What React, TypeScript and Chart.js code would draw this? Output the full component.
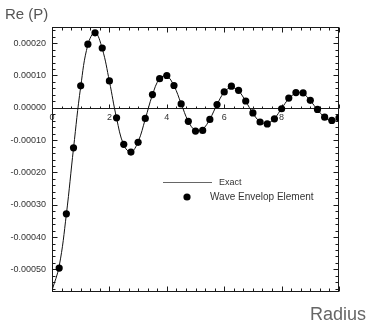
import React, { useEffect, useRef } from 'react';
import { Chart, registerables } from 'chart.js';

Chart.register(...registerables);

// ---- data ----
const radiusPoints = [
  0.25, 0.5, 0.75, 1.0, 1.25, 1.5, 1.75, 2.0, 2.25, 2.5,
  2.75, 3.0, 3.25, 3.5, 3.75, 4.0, 4.25, 4.5, 4.75, 5.0,
  5.25, 5.5, 5.75, 6.0, 6.25, 6.5, 6.75, 7.0, 7.25, 7.5,
  7.75, 8.0, 8.25, 8.5, 8.75, 9.0, 9.25, 9.5, 9.75, 10.0,
];
const waveEnvelopValues = [
  -0.000496, -0.000328, -0.000124, 0.000068, 0.000197, 0.000232, 0.000185, 0.000083, -0.000031, -0.000113,
  -0.000137, -0.000107, -0.000033, 0.000041, 0.00009, 0.0001, 0.000069, 0.000012, -0.000042, -0.000072,
  -0.00007, -0.000036, 0.00001, 0.000049, 0.000067, 0.000054, 0.000021, -0.000016, -0.000044, -0.00005,
  -0.000034, -0.000003, 0.00003, 0.000047, 0.000046, 0.000023, -0.000005, -0.000029, -0.000039, -0.000031,
];
const exactRadius = [
  0, 0.25, 0.5, 0.75, 1.0, 1.25, 1.5, 1.75, 2.0, 2.25, 2.5,
  2.75, 3.0, 3.25, 3.5, 3.75, 4.0, 4.25, 4.5, 4.75, 5.0,
  5.25, 5.5, 5.75, 6.0, 6.25, 6.5, 6.75, 7.0, 7.25, 7.5,
  7.75, 8.0, 8.25, 8.5, 8.75, 9.0, 9.25, 9.5, 9.75, 10.0,
];
const exactValues = [
  -0.000565, -0.00049, -0.00033, -0.000125, 0.000065, 0.000195, 0.000233, 0.000183, 0.000082, -0.000032, -0.000115,
  -0.000137, -0.000105, -0.000035, 0.00004, 0.00009, 0.000098, 0.000068, 0.000013, -0.000042, -0.00007,
  -0.000066, -0.000035, 0.00001, 0.000048, 0.000063, 0.000052, 0.00002, -0.000017, -0.000043, -0.000048,
  -0.000033, -0.000002, 0.000028, 0.000045, 0.000044, 0.000022, -0.000006, -0.000029, -0.00004, -0.000034,
];
const xLabelTicks = [0, 2, 4, 6, 8];
const yTickValues = [-0.0005, -0.0004, -0.0003, -0.0002, -0.0001, 0, 0.0001, 0.0002];
const xRange = [0, 10];
const yRange = [-0.00057, 0.00025];
const xMajorStep = 2;
const xMinorPerMajor = 6;
const yMajorStep = 0.0001;
const yMinorPerMajor = 5;
const titleText = 'Re (P)';
const xTitleText = 'Radius';
const legendLabels = ['Exact', 'Wave Envelop Element'];

const FONT = '"Liberation Sans", Arial, sans-serif';

const decorPlugin = {
  id: 'decor',
  beforeDatasetsDraw(chart: any) {
    const { ctx, chartArea: a, scales } = chart;
    const xs = scales.x;
    const ys = scales.y;
    ctx.save();
    ctx.strokeStyle = '#1a1a1a';
    ctx.lineWidth = 1;
    const L = Math.round(a.left) + 0.5;
    const R = Math.round(a.right) - 0.5;
    const T = Math.round(a.top) + 0.5;
    const B = Math.round(a.bottom) - 0.5;
    ctx.strokeRect(L, T, R - L, B - T);
    const zeroY = Math.round(ys.getPixelForValue(0)) + 0.5;
    ctx.beginPath();
    ctx.moveTo(L, zeroY);
    ctx.lineTo(R, zeroY);
    ctx.stroke();

    // x ticks
    const nX = Math.round((xRange[1] - xRange[0]) / xMajorStep) * xMinorPerMajor;
    ctx.beginPath();
    for (let i = 0; i <= nX; i++) {
      const v = xRange[0] + (i * xMajorStep) / xMinorPerMajor;
      const px = Math.round(xs.getPixelForValue(v)) + 0.5;
      const major = i % xMinorPerMajor === 0;
      const len = major ? 5 : 3;
      ctx.moveTo(px, B);
      ctx.lineTo(px, B - len);
      ctx.moveTo(px, T);
      ctx.lineTo(px, T + len);
      ctx.moveTo(px, zeroY);
      ctx.lineTo(px, zeroY - (major ? 4 : 2));
    }
    // y ticks
    const yMinor = yMajorStep / yMinorPerMajor;
    const k0 = Math.ceil(yRange[0] / yMinor - 1e-6);
    const k1 = Math.floor(yRange[1] / yMinor + 1e-6);
    for (let k = k0; k <= k1; k++) {
      const v = k * yMinor;
      const py = Math.round(ys.getPixelForValue(v)) + 0.5;
      const major = k % yMinorPerMajor === 0;
      const len = major ? 5 : 3;
      ctx.moveTo(L, py);
      ctx.lineTo(L + len, py);
      ctx.moveTo(R, py);
      ctx.lineTo(R - len, py);
    }
    ctx.stroke();
    ctx.restore();
  },
  afterDraw(chart: any) {
    const { ctx, chartArea: a } = chart;
    ctx.save();
    // title
    ctx.fillStyle = '#555';
    ctx.font = `15px ${FONT}`;
    ctx.textBaseline = 'alphabetic';
    ctx.textAlign = 'left';
    ctx.fillText(titleText, 5, 19);
    // x title
    ctx.font = `18px ${FONT}`;
    ctx.fillStyle = '#666';
    ctx.textAlign = 'right';
    ctx.fillText(xTitleText, 366, 320);
    // legend
    const lx = a.left + 111;
    const ly1 = a.top + 155;
    const ly2 = a.top + 170;
    ctx.strokeStyle = '#666';
    ctx.lineWidth = 1;
    ctx.beginPath();
    ctx.moveTo(lx, ly1 + 0.5);
    ctx.lineTo(lx + 49, ly1 + 0.5);
    ctx.stroke();
    ctx.fillStyle = '#333';
    ctx.textAlign = 'left';
    ctx.textBaseline = 'middle';
    ctx.font = `9px ${FONT}`;
    ctx.fillText(legendLabels[0], lx + 56, ly1 + 0.5);
    ctx.fillStyle = '#000';
    ctx.beginPath();
    ctx.arc(lx + 24, ly2, 3.6, 0, Math.PI * 2);
    ctx.fill();
    ctx.fillStyle = '#333';
    ctx.font = `10px ${FONT}`;
    ctx.fillText(legendLabels[1], lx + 47, ly2);
    ctx.restore();
  },
};

export default function App() {
  const ref = useRef<HTMLCanvasElement>(null);
  useEffect(() => {
    if (!ref.current) return;
    const chart = new Chart(ref.current, {
      type: 'scatter',
      data: {
        datasets: [
          {
            label: legendLabels[1],
            data: radiusPoints.map((x, i) => ({ x, y: waveEnvelopValues[i] })),
            pointRadius: 3.6,
            pointBackgroundColor: '#000',
            pointBorderColor: '#000',
            pointBorderWidth: 0,
            showLine: false,
          },
          {
            label: legendLabels[0],
            data: exactRadius.map((x, i) => ({ x, y: exactValues[i] })),
            pointRadius: 0,
            borderColor: '#111',
            borderWidth: 1,
            showLine: true,
            tension: 0.4,
          },
        ],
      },
      options: {
        responsive: false,
        animation: false,
        devicePixelRatio: 1,
        layout: { padding: { top: 27, right: 29, bottom: 30, left: 0 } },
        plugins: {
          legend: { display: false },
          tooltip: { enabled: false },
          title: { display: false },
        },
        scales: {
          x: {
            type: 'linear',
            min: xRange[0],
            max: xRange[1],
            position: { y: 0 } as any,
            grid: { display: false, drawTicks: false },
            border: { display: false },
            afterBuildTicks: (s: any) => {
              s.ticks = xLabelTicks.map((value) => ({ value }));
            },
            ticks: {
              padding: 4,
              color: '#333',
              font: { family: FONT, size: 9 },
              maxRotation: 0,
              callback: (v: any) => String(v),
            },
          },
          y: {
            type: 'linear',
            min: yRange[0],
            max: yRange[1],
            grid: { display: false, drawTicks: false },
            border: { display: false },
            afterBuildTicks: (s: any) => {
              s.ticks = yTickValues.map((value) => ({ value }));
            },
            afterFit: (s: any) => {
              s.width = 52;
            },
            ticks: {
              padding: 6,
              color: '#333',
              font: { family: FONT, size: 9 },
              callback: (v: any) => Number(v).toFixed(5),
            },
          },
        },
      },
      plugins: [decorPlugin],
    });
    return () => chart.destroy();
  }, []);
  return (
    <div style={{ position: 'absolute', left: 0, top: 0, width: 368, height: 322, background: '#fff' }}>
      <canvas ref={ref} width={368} height={322} />
    </div>
  );
}
